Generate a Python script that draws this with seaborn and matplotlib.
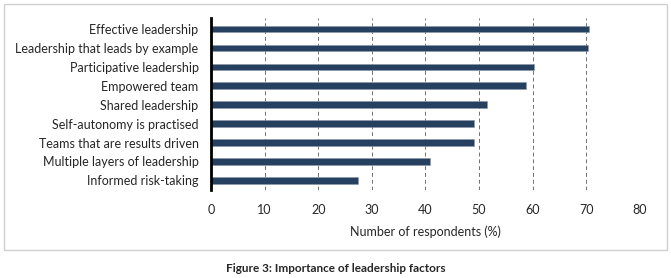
import matplotlib
matplotlib.use("Agg")
import matplotlib.pyplot as plt
import matplotlib.patches as mpatches
import pandas as pd
import seaborn as sns

# Dữ liệu
factors = [
    "Effective leadership",
    "Leadership that leads by example",
    "Participative leadership",
    "Empowered team",
    "Shared leadership",
    "Self-autonomy is practised",
    "Teams that are results driven",
    "Multiple layers of leadership",
    "Informed risk-taking",
]
respondents = [70.5, 70.4, 60.2, 58.8, 51.4, 49.0, 49.0, 40.9, 27.5]
x_ticks = [0, 10, 20, 30, 40, 50, 60, 70, 80]

df = pd.DataFrame({"factor": factors, "pct": respondents})

sns.set_style("white")
plt.rcParams["font.family"] = ["Lato", "DejaVu Sans"]

fig = plt.figure(figsize=(6.71, 2.78), dpi=100)
ax = fig.add_axes([0.3145, 0.317, 0.639, 0.62])

sns.barplot(data=df, x="pct", y="factor", color="#26405f", width=0.34,
            saturation=1, edgecolor="#8a97a8", linewidth=0.4, ax=ax)

ax.set_xlim(0, 80)
ax.set_ylim(8.5, -0.6)
ax.set_xticks(x_ticks)
ax.set_xticklabels([str(t) for t in x_ticks], fontsize=9)
ax.tick_params(axis="y", labelsize=9, length=0, pad=9)
ax.tick_params(axis="x", length=0, pad=10)
for x in x_ticks[1:]:
    ax.axvline(x, color="#707070", linestyle=(0, (4, 3)), linewidth=0.7, zorder=0)

for s in ["top", "right", "bottom"]:
    ax.spines[s].set_visible(False)
ax.spines["left"].set_color("black")
ax.spines["left"].set_linewidth(2)
ax.set_ylabel("")
ax.set_xlabel("Number of respondents (%)", fontsize=9, labelpad=7)

# khung viền
fig.patches.append(mpatches.Rectangle((0.006, 0.1), 0.988, 0.885, transform=fig.transFigure,
                                      fill=False, edgecolor="#d0d0d0", linewidth=1))
fig.text(0.5, 0.02, "Figure 3: Importance of leadership factors", ha="center",
         fontsize=8.5, fontweight="bold")

plt.savefig("out.png", dpi=100)
